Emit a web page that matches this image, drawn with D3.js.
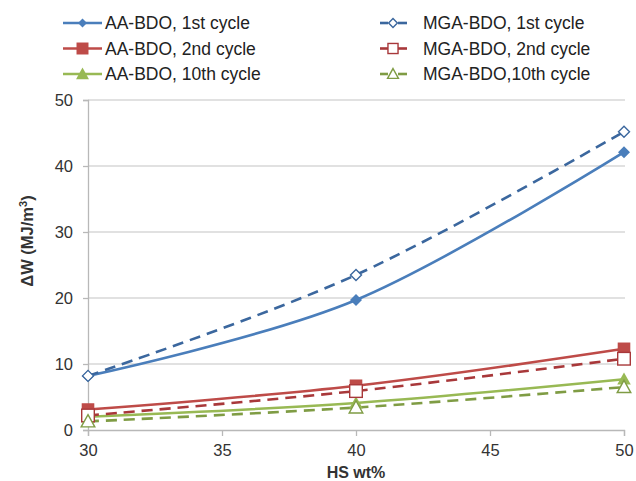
<!DOCTYPE html>
<html>
<head>
<meta charset="utf-8">
<script src="https://cdn.jsdelivr.net/npm/d3@7"></script>
<style>
  body { margin: 0; background: #fff; }
  svg { font-family: "Liberation Sans", Arial, sans-serif; }
</style>
</head>
<body>
<svg id="chart" width="636" height="481"></svg>
<script>
// HS content (wt%) at which ΔW was measured
const hsWt = [30, 40, 50];

// ΔW values (MJ/m3) per series
const aa1 = [8.2, 19.7, 42.1];
const mga1 = [8.2, 23.5, 45.2];
const aa2 = [3.1, 6.7, 12.3];
const mga2 = [2.2, 5.9, 10.8];
const aa10 = [2.0, 4.1, 7.7];
const mga10 = [1.3, 3.4, 6.5];

const seriesNames = [
  "AA-BDO, 1st cycle", "AA-BDO, 2nd cycle", "AA-BDO, 10th cycle",
  "MGA-BDO, 1st cycle", "MGA-BDO, 2nd cycle", "MGA-BDO,10th cycle"
];

const xTicks = [30, 35, 40, 45, 50];
const yTicks = [0, 10, 20, 30, 40, 50];

const series = [
  { name: seriesNames[0], values: aa1,  color: "#4a7ebb", dashed: false, marker: "diamond",  open: false },
  { name: seriesNames[1], values: aa2,  color: "#be4b48", dashed: false, marker: "square",   open: false },
  { name: seriesNames[2], values: aa10, color: "#98b954", dashed: false, marker: "triangle", open: false },
  { name: seriesNames[3], values: mga1, color: "#3b679e", dashed: true,  marker: "diamond",  open: true },
  { name: seriesNames[4], values: mga2, color: "#a8383a", dashed: true,  marker: "square",   open: true },
  { name: seriesNames[5], values: mga10,color: "#7f9c44", dashed: true,  marker: "triangle", open: true }
];

const svg = d3.select("#chart");
const m = { left: 88, right: 624, top: 100, bottom: 430 };

const x = d3.scaleLinear().domain([30, 50]).range([m.left, m.right]);
const y = d3.scaleLinear().domain([0, 50]).range([m.bottom, m.top]);

// horizontal gridlines
svg.append("g").selectAll("line").data(yTicks.filter(d => d > 0)).join("line")
  .attr("x1", m.left).attr("x2", m.right + 1)
  .attr("y1", d => y(d)).attr("y2", d => y(d))
  .attr("stroke", "#c4c4c4").attr("stroke-width", 1.2);

// y axis
const yAxis = svg.append("g").attr("transform", `translate(${m.left},0)`)
  .call(d3.axisLeft(y).tickValues(yTicks).tickSize(5).tickPadding(10));
// x axis
const xAxis = svg.append("g").attr("transform", `translate(0,${m.bottom})`)
  .call(d3.axisBottom(x).tickValues(xTicks).tickSize(6).tickPadding(8));

[yAxis, xAxis].forEach(g => {
  g.select(".domain").attr("stroke", "#b8b8b8").attr("stroke-width", 1.3);
  g.selectAll(".tick line").attr("stroke", "#b8b8b8").attr("stroke-width", 1.3);
  g.selectAll(".tick text").attr("fill", "#333").attr("font-size", 16.5)
    .attr("font-family", "Liberation Sans, Arial, sans-serif");
});

// axis titles
svg.append("text").attr("x", 356).attr("y", 478)
  .attr("text-anchor", "middle").attr("font-size", 16).attr("font-weight", "bold")
  .attr("fill", "#333").text("HS wt%");

const yt = svg.append("text").attr("transform", `translate(33,241) rotate(-90)`)
  .attr("text-anchor", "middle").attr("font-size", 16.5).attr("font-weight", "bold")
  .attr("fill", "#333");
yt.append("tspan").text("ΔW (MJ/m");
yt.append("tspan").attr("font-size", 11).attr("dy", -6).text("3");
yt.append("tspan").attr("dy", 6).text(")");

const line = d3.line()
  .x((d, i) => x(hsWt[i]))
  .y(d => y(d))
  .curve(d3.curveCatmullRom.alpha(0));

function drawMarker(g, s, cx, cy, scale) {
  const fill = s.open ? "#fff" : s.color;
  const sw = s.open ? 1.4 : 0;
  if (s.marker === "diamond") {
    const r = (s.open ? 5.5 : 6) * scale;
    g.append("path").attr("d", `M${cx},${cy - r}L${cx + r},${cy}L${cx},${cy + r}L${cx - r},${cy}Z`)
      .attr("fill", fill).attr("stroke", s.color).attr("stroke-width", sw);
  } else if (s.marker === "square") {
    const r = 6.3 * scale;
    g.append("rect").attr("x", cx - r).attr("y", cy - r).attr("width", 2 * r).attr("height", 2 * r)
      .attr("fill", fill).attr("stroke", s.color).attr("stroke-width", sw);
  } else {
    const r = 6.8 * scale;
    g.append("path").attr("d", `M${cx},${cy - r}L${cx + r},${cy + r * 0.8}L${cx - r},${cy + r * 0.8}Z`)
      .attr("fill", fill).attr("stroke", s.color).attr("stroke-width", sw);
  }
}

// series lines and markers
const plot = svg.append("g");
series.forEach(s => {
  plot.append("path").datum(s.values).attr("d", line)
    .attr("fill", "none").attr("stroke", s.color).attr("stroke-width", 2.6)
    .attr("stroke-dasharray", s.dashed ? "11,7" : null);
});
series.forEach(s => {
  const g = plot.append("g");
  s.values.forEach((v, i) => drawMarker(g, s, x(hsWt[i]), y(v), 1));
});

// legend: two columns of three entries
const legend = svg.append("g");
series.forEach((s, i) => {
  const col = i < 3 ? 0 : 1;
  const row = i % 3;
  const ly = 23 + row * 25.5;
  const g = legend.append("g");
  if (s.dashed) {
    const lx = 380;
    g.append("line").attr("x1", lx).attr("x2", lx + 8).attr("y1", ly).attr("y2", ly)
      .attr("stroke", s.color).attr("stroke-width", 2.6);
    g.append("line").attr("x1", lx + 18).attr("x2", lx + 27).attr("y1", ly).attr("y2", ly)
      .attr("stroke", s.color).attr("stroke-width", 2.6);
    drawMarker(g, s, lx + 13, ly, 0.8);
    g.append("text").attr("x", 423).attr("y", ly + 6)
      .attr("font-size", 17.5).attr("fill", "#222").text(s.name);
  } else {
    const lx = 63;
    g.append("line").attr("x1", lx).attr("x2", lx + 39).attr("y1", ly).attr("y2", ly)
      .attr("stroke", s.color).attr("stroke-width", 2.6);
    drawMarker(g, s, lx + 19.5, ly, s.marker === "diamond" ? 0.75 : 0.95);
    g.append("text").attr("x", 105).attr("y", ly + 6)
      .attr("font-size", 17.5).attr("fill", "#222").text(s.name);
  }
});
</script>
</body>
</html>
